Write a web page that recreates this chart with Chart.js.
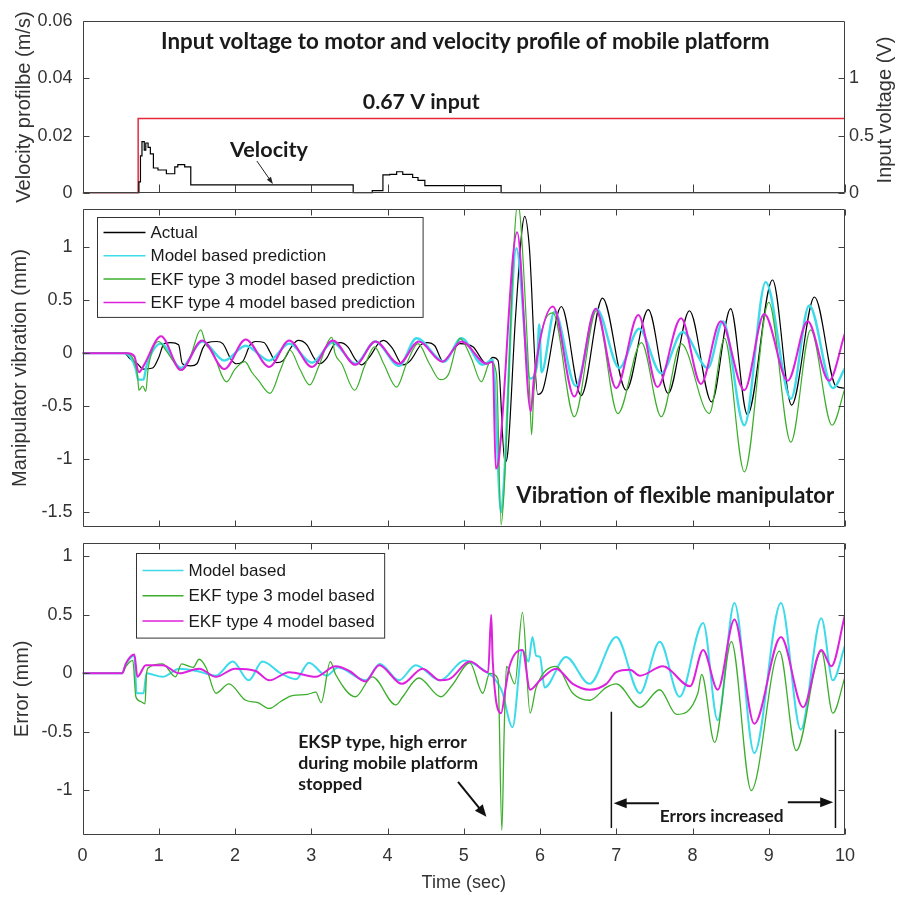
<!DOCTYPE html>
<html><head><meta charset="utf-8">
<script src="https://cdn.jsdelivr.net/npm/chart.js@4.4.1/dist/chart.umd.min.js"></script>
<style>
html,body{margin:0;padding:0;background:#fff;}
#wrap{position:relative;width:900px;height:897px;overflow:hidden;background:#fff;}
canvas{position:absolute;left:0;top:0;}
</style></head><body>
<div id="wrap">
<canvas id="cTop" width="900" height="897"></canvas>
<canvas id="cMid" width="900" height="897"></canvas>
<canvas id="cBot" width="900" height="897"></canvas>
</div>
<script>
// ---------- ticks ----------
const timeTicks = [0,1,2,3,4,5,6,7,8,9,10];
const timeTickLabels = ['0','1','2','3','4','5','6','7','8','9','10'];
const velTicks = [0,0.02,0.04,0.06];
const velTickLabels = ['0','0.02','0.04','0.06'];
const voltTicks = [0,0.5,1];
const voltTickLabels = ['0','0.5','1'];
const vibTicks = [-1.5,-1,-0.5,0,0.5,1];
const vibTickLabels = ['-1.5','-1','-0.5','0','0.5','1'];
const errTicks = [-1,-0.5,0,0.5,1];
const errTickLabels = ['-1','-0.5','0','0.5','1'];

// ---------- legend labels ----------
const vibLabels = ['Actual','Model based prediction','EKF type 3 model based prediction','EKF type 4 model based prediction'];
const errLabels = ['Model based','EKF type 3 model based','EKF type 4 model based'];

// ---------- top panel: [time s, value] ----------
const velProfile = [[0,0],[0.74,0.004],[0.76,0.013],[0.78,0.018],[0.81,0.015],[0.83,0.0175],[0.86,0.016],[0.89,0.0137],[0.93,0.0088],[0.99,0.0081],[1.1,0.0068],[1.21,0.0092],[1.25,0.01],[1.34,0.0092],[1.42,0.0029],[3.55,0],[3.8,0.0009],[3.94,0.0064],[4.03,0.0066],[4.12,0.0075],[4.2,0.0066],[4.33,0.0055],[4.4,0.0045],[4.49,0.0027],[5.49,0],[10,0]];
const inputVoltage = [[0,0],[0.73,0.65],[10,0.65]];

// ---------- middle panel: [time s, vibration mm] ----------
const vibActual = [[0,0],[0.55,0],[0.62,-0.05],[0.72,-0.1],[0.8,-0.15],[0.92,-0.14],[1.0,-0.04],[1.07,0.09],[1.16,0.1],[1.26,0.08],[1.31,-0.1],[1.42,-0.12],[1.5,-0.1],[1.58,0.05],[1.64,0.1],[1.76,0.11],[1.84,0.09],[1.95,-0.06],[2.02,-0.1],[2.1,-0.08],[2.2,0.08],[2.27,0.11],[2.38,0.1],[2.46,0.01],[2.54,-0.09],[2.63,-0.07],[2.74,0.06],[2.83,0.12],[2.94,0.08],[3.04,-0.05],[3.11,-0.1],[3.2,-0.05],[3.3,0.08],[3.38,0.1],[3.48,0.06],[3.58,-0.06],[3.66,-0.11],[3.78,-0.02],[3.88,0.09],[3.95,0.12],[4.06,0.05],[4.2,-0.11],[4.3,-0.07],[4.44,0.08],[4.52,0.1],[4.62,0.07],[4.73,-0.08],[4.83,0.0],[4.95,0.09],[5.12,0.06],[5.3,-0.1],[5.38,-0.04],[5.45,-0.07],[5.54,-1.03],[5.58,-0.92],[5.68,0.35],[5.8,1.29],[5.86,1.0],[5.97,-0.39],[6.03,-0.36],[6.28,0.44],[6.54,-0.4],[6.82,0.52],[7.13,-0.35],[7.42,0.41],[7.68,-0.38],[7.96,0.4],[8.25,-0.46],[8.5,0.42],[8.72,-0.58],[9.05,0.69],[9.3,-0.49],[9.6,0.53],[9.88,-0.31],[10,-0.33]];
const vibModel = [[0,0],[0.55,0],[0.62,-0.03],[0.7,-0.15],[0.73,-0.25],[0.8,-0.25],[0.84,-0.12],[1.03,0.09],[1.29,-0.14],[1.57,0.11],[1.86,-0.07],[2.14,0.07],[2.45,-0.07],[2.71,0.09],[3.01,-0.09],[3.28,0.1],[3.58,-0.1],[3.84,0.11],[4.15,-0.12],[4.38,0.14],[4.74,-0.08],[4.97,0.14],[5.25,-0.11],[5.38,-0.06],[5.49,-1.5],[5.52,-1.3],[5.69,0.99],[5.87,-0.24],[5.96,-0.12],[5.99,0.27],[6.02,-0.18],[6.19,0.39],[6.47,-0.31],[6.74,0.42],[7.04,-0.14],[7.3,0.23],[7.59,-0.19],[7.87,0.2],[8.2,-0.14],[8.4,0.3],[8.68,-0.68],[8.96,0.67],[9.29,-0.43],[9.53,0.45],[9.84,-0.33],[10,-0.14]];
const vibEkf3 = [[0,0],[0.58,0],[0.66,-0.05],[0.72,-0.2],[0.74,-0.35],[0.79,-0.31],[0.83,-0.36],[0.86,-0.15],[1.0,0.11],[1.1,0.02],[1.31,-0.16],[1.42,-0.02],[1.55,0.22],[1.62,0.08],[1.7,0.02],[1.89,-0.27],[2.0,-0.15],[2.13,-0.08],[2.22,-0.18],[2.3,-0.25],[2.46,-0.38],[2.6,-0.15],[2.72,0.03],[2.85,-0.15],[2.98,-0.3],[3.1,-0.12],[3.27,0.15],[3.31,0.0],[3.4,-0.1],[3.57,-0.35],[3.7,-0.12],[3.83,0.06],[3.95,-0.1],[4.12,-0.32],[4.25,-0.1],[4.4,0.09],[4.55,-0.1],[4.69,-0.25],[4.8,-0.2],[4.95,0.14],[5.1,-0.05],[5.23,-0.27],[5.35,-0.08],[5.43,-0.2],[5.49,-1.62],[5.52,-1.4],[5.71,1.42],[5.75,1.2],[5.86,-0.3],[5.89,-0.77],[5.92,-0.36],[6.17,0.38],[6.45,-0.6],[6.74,0.4],[7.02,-0.57],[7.33,0.1],[7.59,-0.6],[7.85,0.09],[8.22,-0.57],[8.42,0.14],[8.68,-1.12],[9.0,0.48],[9.29,-0.84],[9.55,0.22],[9.83,-0.68],[10,-0.33]];
const vibEkf4 = [[0,0],[0.6,0],[0.68,-0.03],[0.74,-0.18],[0.8,-0.12],[1.03,0.16],[1.29,-0.16],[1.57,0.12],[1.86,-0.15],[2.14,0.13],[2.45,-0.13],[2.71,0.12],[3.01,-0.13],[3.28,0.12],[3.58,-0.11],[3.84,0.11],[4.15,-0.1],[4.41,0.11],[4.72,-0.08],[4.97,0.11],[5.3,-0.1],[5.38,-0.08],[5.42,-1.09],[5.46,-1.0],[5.7,1.14],[5.88,-0.55],[5.92,-0.24],[6.17,0.44],[6.45,-0.41],[6.73,0.42],[7.0,-0.33],[7.29,0.36],[7.54,-0.32],[7.85,0.33],[8.11,-0.29],[8.37,0.3],[8.68,-0.35],[8.94,0.37],[9.25,-0.26],[9.51,0.3],[9.79,-0.26],[10,0.19]];

// ---------- bottom panel: [time s, error mm] ----------
const errModel = [[0,0],[0.52,0],[0.57,0.08],[0.68,0.15],[0.71,-0.17],[0.8,-0.17],[0.84,0.0],[1.05,-0.03],[1.27,0.04],[1.5,0.02],[1.75,-0.02],[1.97,0.1],[2.18,-0.06],[2.36,0.1],[2.6,0.0],[2.8,-0.05],[2.97,0.09],[3.2,-0.02],[3.35,0.05],[3.71,-0.06],[3.9,0.08],[4.15,-0.06],[4.37,0.07],[4.69,-0.06],[5.01,0.11],[5.32,0.0],[5.4,-0.04],[5.5,-0.15],[5.64,-0.46],[5.77,0.2],[5.85,0.1],[5.9,0.31],[5.95,0.15],[6.0,0.14],[6.06,-0.12],[6.34,0.14],[6.65,-0.09],[7.0,0.31],[7.31,-0.17],[7.57,0.27],[7.83,-0.2],[8.14,0.43],[8.33,-0.4],[8.55,0.6],[8.81,-0.68],[9.16,0.6],[9.42,-0.48],[9.69,0.47],[9.84,-0.06],[10,0.24]];
const errEkf3 = [[0,0],[0.52,0],[0.57,0.06],[0.66,0.11],[0.7,-0.2],[0.76,-0.24],[0.82,-0.26],[0.84,0.0],[0.87,0.05],[1.05,0.08],[1.22,-0.03],[1.3,0.08],[1.45,0.05],[1.53,0.12],[1.62,0.05],[1.75,-0.17],[1.92,-0.09],[2.14,-0.23],[2.3,-0.25],[2.45,-0.3],[2.6,-0.24],[2.75,-0.19],[2.95,-0.18],[3.06,-0.16],[3.13,-0.25],[3.25,0.1],[3.32,-0.01],[3.58,-0.2],[3.8,-0.03],[4.11,-0.27],[4.2,-0.2],[4.41,-0.04],[4.7,-0.2],[4.85,-0.1],[5.08,0.09],[5.25,-0.17],[5.34,0.0],[5.45,-0.05],[5.5,-1.34],[5.53,-0.5],[5.56,0.06],[5.67,-0.09],[5.77,0.52],[5.87,-0.34],[5.95,-0.12],[6.21,0.06],[6.43,-0.17],[6.65,-0.23],[6.87,-0.12],[7.0,-0.09],[7.31,-0.29],[7.57,-0.14],[7.79,-0.35],[8.07,-0.17],[8.12,-0.01],[8.29,-0.59],[8.51,0.27],[8.77,-1.0],[9.14,0.19],[9.36,-0.66],[9.69,0.19],[9.84,-0.34],[10,-0.03]];
const errEkf4 = [[0,0],[0.52,0],[0.57,0.085],[0.68,0.16],[0.72,-0.03],[0.83,0.07],[1.05,0.07],[1.27,0.0],[1.53,0.04],[1.75,-0.03],[2.0,0.04],[2.27,0.02],[2.45,-0.06],[2.71,0.01],[3.06,-0.03],[3.32,0.06],[3.5,0.02],[3.71,-0.07],[3.89,0.07],[4.19,-0.09],[4.46,0.04],[4.69,-0.06],[4.81,-0.05],[5.08,0.1],[5.32,0.01],[5.36,0.5],[5.38,0.11],[5.49,-0.34],[5.55,-0.12],[5.6,0.06],[5.77,0.2],[5.87,-0.14],[6.0,-0.06],[6.21,0.04],[6.43,-0.09],[6.65,-0.14],[6.87,-0.09],[7.0,0.01],[7.18,0.03],[7.31,-0.02],[7.61,0.06],[7.97,-0.11],[8.14,0.2],[8.33,-0.14],[8.55,0.46],[8.81,-0.43],[9.16,0.31],[9.45,-0.29],[9.69,0.2],[9.82,0.06],[10,0.5]];

// ---------- styles ----------
const FONT = "'Liberation Sans', Arial, sans-serif";
const BOLD = "Lato, 'Open Sans', sans-serif";
const C_BLACK = '#000000', C_CYAN = '#3ddbea', C_GREEN = '#3cae2c', C_MAG = '#dc22dc', C_RED = '#e6283a';
const TICKC = '#333333';

function pts(arr){ return arr.map(p => ({x: p[0], y: p[1]})); }
function fixedTicks(list){ return s => { s.ticks = list.map(v => ({value: v})); }; }
function lineDs(label, arr, color, w, order, extra){
  return Object.assign({label, data: pts(arr), borderColor: color, backgroundColor: color, borderWidth: w,
    pointRadius: 0, fill: false, tension: 0.3, cubicInterpolationMode: 'monotone', order}, extra || {});
}
function yAxis(ticks, labels, min, max, title, titlePad){
  return {
    type: 'linear', position: 'left', min, max,
    afterBuildTicks: fixedTicks(ticks),
    afterFit: s => { s.width = 82.5; },
    grid: {display: false, drawTicks: false}, border: {display: false},
    ticks: {autoSkip: false, callback: (v, i) => labels[i], font: {family: FONT, size: 18}, color: TICKC, padding: 10},
    title: {display: true, text: title, font: {family: FONT, size: 20}, color: TICKC, padding: {top: titlePad, bottom: 0}}
  };
}

function framePlugin(opts){
  return { id: 'frame', afterDraw(chart){
    const {ctx, chartArea: a, scales} = chart;
    ctx.save();
    ctx.strokeStyle = '#404040'; ctx.lineWidth = 1;
    const L = Math.round(a.left) + 0.5, R = Math.round(a.right) - 0.5, T = Math.round(a.top) + 0.5, B = Math.round(a.bottom) - 0.5;
    ctx.beginPath();
    ctx.rect(L, T, R - L, B - T);
    const x = scales.x;
    timeTicks.forEach(v => {
      const px = Math.round(x.getPixelForValue(v)) + 0.5;
      if (opts.xBottom) { ctx.moveTo(px, B); ctx.lineTo(px, B - opts.xLen); }
      if (opts.xTop) { ctx.moveTo(px, T); ctx.lineTo(px, T + opts.len); }
    });
    const y = scales.y;
    opts.yTicks.forEach(v => {
      const py = Math.round(y.getPixelForValue(v)) + 0.5;
      ctx.moveTo(L, py); ctx.lineTo(L + opts.len, py);
      if (opts.yRight) { ctx.moveTo(R, py); ctx.lineTo(R - opts.len, py); }
    });
    if (opts.y2Ticks) {
      const y2 = scales.y2;
      opts.y2Ticks.forEach(v => { const py = Math.round(y2.getPixelForValue(v)) + 0.5; ctx.moveTo(R, py); ctx.lineTo(R - opts.len, py); });
    }
    ctx.stroke();
    ctx.restore();
  }};
}

function legendPlugin(o){
  return { id: 'legendBox', afterDatasetsDraw(chart){
    const {ctx, chartArea: a} = chart;
    const ds = chart.data.datasets.slice().sort((p, q) => p.legendIndex - q.legendIndex);
    ctx.save();
    ctx.font = `17px ${FONT}`;
    const w = Math.max(...ds.map(d => ctx.measureText(d.label).width)) + o.textX + o.padR;
    const h = o.firstRow * 2 + o.rowH * (ds.length - 1);
    const x0 = Math.round(a.left + o.dx) + 0.5, y0 = Math.round(a.top + o.dy) + 0.5;
    ctx.fillStyle = '#fff'; ctx.fillRect(x0, y0, w, h);
    ctx.strokeStyle = '#333'; ctx.lineWidth = 1; ctx.strokeRect(x0, y0, w, h);
    ds.forEach((d, i) => {
      const yy = y0 + o.firstRow + i * o.rowH;
      ctx.strokeStyle = d.borderColor; ctx.lineWidth = 1.5;
      ctx.beginPath(); ctx.moveTo(x0 + o.lineX0, yy); ctx.lineTo(x0 + o.lineX1, yy); ctx.stroke();
      ctx.fillStyle = '#1a1a1a'; ctx.textBaseline = 'middle'; ctx.textAlign = 'left';
      ctx.fillText(d.label, x0 + o.textX, yy + 1);
    });
    ctx.restore();
  }};
}

function fitFont(ctx, text, width, base){
  ctx.font = `bold ${base}px ${BOLD}`;
  const m = ctx.measureText(text).width;
  return base * width / m;
}
function boldText(ctx, text, x, y, size, align){
  ctx.font = `bold ${size}px ${BOLD}`;
  ctx.fillStyle = '#1a1a1a'; ctx.textAlign = align || 'left'; ctx.textBaseline = 'middle';
  ctx.fillText(text, x, y);
}
function arrow(ctx, x0, y0, x1, y1, lw, hl, hw){
  const ang = Math.atan2(y1 - y0, x1 - x0), c = Math.cos(ang), s = Math.sin(ang);
  ctx.lineWidth = lw;
  ctx.beginPath(); ctx.moveTo(x0, y0); ctx.lineTo(x1 - c * hl * 0.8, y1 - s * hl * 0.8); ctx.stroke();
  ctx.beginPath(); ctx.moveTo(x1, y1);
  ctx.lineTo(x1 - hl * c + hw / 2 * s, y1 - hl * s - hw / 2 * c);
  ctx.lineTo(x1 - hl * c - hw / 2 * s, y1 - hl * s + hw / 2 * c);
  ctx.closePath(); ctx.fill();
}

const common = {responsive: false, animation: false, events: [], plugins: {legend: {display: false}, tooltip: {enabled: false}}};

// ---------- TOP ----------
const topAnnot = { id: 'topAnnot', afterDraw(chart){
  const {ctx, chartArea: a, scales: {x, y}} = chart;
  ctx.save();
  const t1 = 'Input voltage to motor and velocity profile of mobile platform';
  boldText(ctx, t1, x.getPixelForValue(5.02), y.getPixelForValue(0.0526), fitFont(ctx, t1, 609, 18), 'center');
  const t2 = '0.67 V input';
  boldText(ctx, t2, x.getPixelForValue(3.676), y.getPixelForValue(0.0317), fitFont(ctx, t2, 117, 18), 'left');
  const t3 = 'Velocity';
  boldText(ctx, t3, x.getPixelForValue(1.935), y.getPixelForValue(0.01505), fitFont(ctx, t3, 78, 18), 'left');
  ctx.strokeStyle = '#222'; ctx.fillStyle = '#222';
  arrow(ctx, x.getPixelForValue(2.287), y.getPixelForValue(0.01123), x.getPixelForValue(2.497), y.getPixelForValue(0.00323), 1, 7, 5);
  // right axis title, reading bottom-to-top
  ctx.translate(885, (a.top + a.bottom) / 2 + 3);
  ctx.rotate(-Math.PI / 2);
  ctx.font = `20px ${FONT}`; ctx.fillStyle = TICKC; ctx.textAlign = 'center'; ctx.textBaseline = 'middle';
  ctx.fillText('Input voltage (V)', 0, 0);
  ctx.restore();
}};

new Chart(document.getElementById('cTop'), {
  type: 'line',
  data: {datasets: [
    {label: 'Velocity', data: pts(velProfile), yAxisID: 'y', borderColor: C_BLACK, borderWidth: 1.2, stepped: true, pointRadius: 0, fill: false, order: 0},
    {label: 'Input voltage', data: pts(inputVoltage), yAxisID: 'y2', borderColor: C_RED, borderWidth: 1.5, stepped: true, pointRadius: 0, fill: false, order: 1}
  ]},
  options: Object.assign({}, common, {
    layout: {padding: {top: 20.7, bottom: 897 - 193.3, left: 0, right: 0}},
    scales: {
      x: {type: 'linear', min: 0, max: 10, display: false},
      y: yAxis(velTicks, velTickLabels, 0, 0.06, 'Velocity profilbe (m/s)', 12),
      y2: {type: 'linear', position: 'right', min: 0, max: 1.5,
        afterBuildTicks: fixedTicks(voltTicks), afterFit: s => { s.width = 55; },
        grid: {display: false, drawTicks: false}, border: {display: false},
        ticks: {autoSkip: false, callback: (v, i) => voltTickLabels[i], font: {family: FONT, size: 18}, color: TICKC, padding: 4}}
    }
  }),
  plugins: [framePlugin({xBottom: true, xLen: 8, len: 6, yTicks: velTicks, y2Ticks: voltTicks}), topAnnot]
});

// ---------- MIDDLE ----------
const midAnnot = { id: 'midAnnot', afterDraw(chart){
  const {ctx, scales: {x, y}} = chart;
  ctx.save();
  const t = 'Vibration of flexible manipulator';
  boldText(ctx, t, x.getPixelForValue(5.69), y.getPixelForValue(-1.346), fitFont(ctx, t, 318, 18), 'left');
  ctx.restore();
}};

new Chart(document.getElementById('cMid'), {
  type: 'line',
  data: {datasets: [
    lineDs(vibLabels[0], vibActual, C_BLACK, 1.2, 3, {legendIndex: 0}),
    lineDs(vibLabels[1], vibModel, C_CYAN, 2.4, 2, {legendIndex: 1}),
    lineDs(vibLabels[2], vibEkf3, C_GREEN, 1.2, 1, {legendIndex: 2}),
    lineDs(vibLabels[3], vibEkf4, C_MAG, 2, 0, {legendIndex: 3})
  ]},
  options: Object.assign({}, common, {
    layout: {padding: {top: 209, bottom: 897 - 527, left: 0, right: 55}},
    scales: {
      x: {type: 'linear', min: 0, max: 10, display: false},
      y: yAxis(vibTicks, vibTickLabels, -1.64, 1.36, 'Manipulator vibration (mm)', 8)
    }
  }),
  plugins: [framePlugin({xBottom: true, xTop: true, xLen: 6, len: 6, yTicks: vibTicks, yRight: true}),
    legendPlugin({dx: 14.5, dy: 8, firstRow: 15, rowH: 23.3, lineX0: 6, lineX1: 48, textX: 53, padR: 8}), midAnnot]
});

// ---------- BOTTOM ----------
const botAnnot = { id: 'botAnnot', afterDraw(chart){
  const {ctx, scales: {x, y}} = chart;
  ctx.save();
  const lines = ['EKSP type, high error', 'during mobile platform', 'stopped'];
  const sz = fitFont(ctx, lines[1], 180, 16);
  const lv = [-0.59, -0.769, -0.947];
  lines.forEach((l, i) => boldText(ctx, l, x.getPixelForValue(2.828), y.getPixelForValue(lv[i]), sz, 'left'));
  ctx.strokeStyle = '#111'; ctx.fillStyle = '#111';
  arrow(ctx, x.getPixelForValue(4.925), y.getPixelForValue(-0.926), x.getPixelForValue(5.297), y.getPixelForValue(-1.225), 2, 12, 10);
  // bracket lines
  ctx.lineWidth = 1.5;
  ctx.beginPath();
  ctx.moveTo(x.getPixelForValue(6.936), y.getPixelForValue(-0.328)); ctx.lineTo(x.getPixelForValue(6.936), y.getPixelForValue(-1.32));
  ctx.moveTo(x.getPixelForValue(9.875), y.getPixelForValue(-0.479)); ctx.lineTo(x.getPixelForValue(9.875), y.getPixelForValue(-1.32));
  ctx.stroke();
  arrow(ctx, x.getPixelForValue(7.56), y.getPixelForValue(-1.108), x.getPixelForValue(6.966), y.getPixelForValue(-1.108), 2, 13, 10);
  arrow(ctx, x.getPixelForValue(9.25), y.getPixelForValue(-1.1), x.getPixelForValue(9.845), y.getPixelForValue(-1.1), 2, 13, 10);
  const t = 'Errors increased';
  boldText(ctx, t, x.getPixelForValue(7.57), y.getPixelForValue(-1.225), fitFont(ctx, t, 124, 16), 'left');
  ctx.restore();
}};

new Chart(document.getElementById('cBot'), {
  type: 'line',
  data: {datasets: [
    lineDs(errLabels[0], errModel, C_CYAN, 2, 2, {legendIndex: 0}),
    lineDs(errLabels[1], errEkf3, C_GREEN, 1.3, 1, {legendIndex: 1}),
    lineDs(errLabels[2], errEkf4, C_MAG, 2, 0, {legendIndex: 2})
  ]},
  options: Object.assign({}, common, {
    layout: {padding: {top: 542.7, bottom: 0, left: 0, right: 55}},
    scales: {
      x: {type: 'linear', min: 0, max: 10,
        afterBuildTicks: fixedTicks(timeTicks), afterFit: s => { s.height = 62; },
        grid: {display: false, drawTicks: false}, border: {display: false},
        ticks: {autoSkip: false, maxRotation: 0, callback: (v, i) => timeTickLabels[i], font: {family: FONT, size: 18}, color: TICKC, padding: 10},
        title: {display: true, text: 'Time (sec)', font: {family: FONT, size: 18}, color: TICKC, padding: {top: 0, bottom: 3}}},
      y: yAxis(errTicks, errTickLabels, -1.38, 1.115, 'Error (mm)', 10)
    }
  }),
  plugins: [framePlugin({xBottom: true, xTop: true, xLen: 6, len: 6, yTicks: errTicks, yRight: true}),
    legendPlugin({dx: 53.5, dy: 10.3, firstRow: 17, rowH: 25.3, lineX0: 6, lineX1: 47, textX: 52, padR: 10}), botAnnot]
});
</script>
</body></html>
